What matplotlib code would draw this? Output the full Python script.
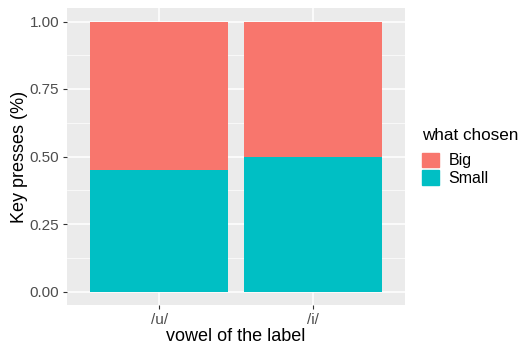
import matplotlib.pyplot as plt
from matplotlib.patches import Patch

plt.rcParams['font.family'] = ['Liberation Sans', 'DejaVu Sans']

vowels = ['/u/', '/i/']
small = [0.45, 0.50]
big = [1 - s for s in small]
ticks = [0.00, 0.25, 0.50, 0.75, 1.00]

c_big = '#F8766D'
c_small = '#00BFC4'

fig = plt.figure(figsize=(5.21, 3.44), dpi=100)
ax = fig.add_axes([67 / 521, 1 - 305 / 344, 338 / 521, 297 / 344])
ax.set_facecolor('#EBEBEB')

x = list(range(1, len(vowels) + 1))
ax.bar(x, small, width=0.9, color=c_small, zorder=3)
ax.bar(x, big, width=0.9, bottom=small, color=c_big, zorder=3)

ax.set_xlim(0.4, 2.6)
ax.set_ylim(-0.05, 1.05)
ax.set_xticks(x)
ax.set_xticklabels(vowels)
ax.set_yticks(ticks)
ax.set_yticklabels([f'{t:.2f}' for t in ticks])
ax.set_yticks([0.125, 0.375, 0.625, 0.875], minor=True)

ax.grid(which='major', color='white', linewidth=1.1, zorder=0)
ax.grid(which='minor', axis='y', color='white', linewidth=0.5, zorder=0)
for s in ax.spines.values():
    s.set_visible(False)
ax.tick_params(which='major', colors='#333333', labelcolor='#4D4D4D', labelsize=11,
               length=3, width=0.8, pad=2.5)
ax.tick_params(which='minor', length=0)

ax.set_xlabel('vowel of the label', fontsize=13, labelpad=1)
ax.set_ylabel('Key presses (%)', fontsize=13, labelpad=1)

handles = [Patch(color=c_big, label='Big'), Patch(color=c_small, label='Small')]
leg = fig.legend(handles=handles, title='what chosen', loc='upper left',
                 bbox_to_anchor=(409 / 521, 1 - 115 / 344), frameon=False,
                 fontsize=11.5, title_fontsize=12.3, handlelength=1.06, handleheight=1.06,
                 handletextpad=0.6, labelspacing=0.1, borderpad=0.3)
leg._legend_box.align = 'left'
leg._legend_box.sep = 7

fig.savefig('out.png', dpi=100)
